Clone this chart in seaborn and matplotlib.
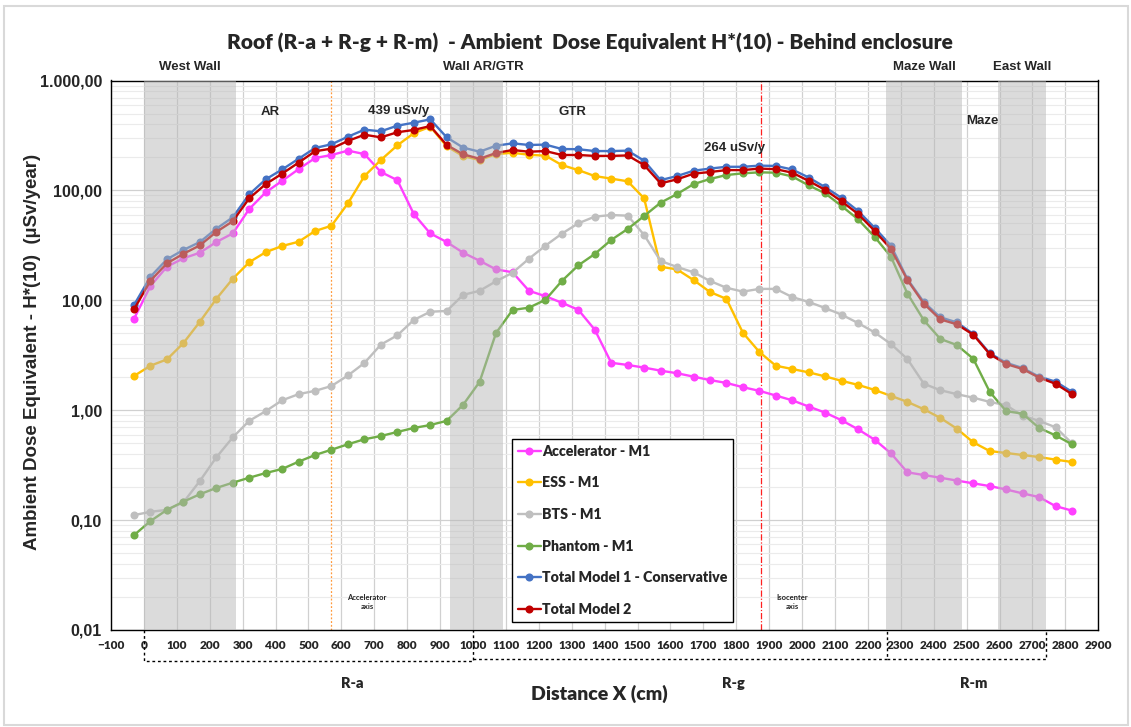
import matplotlib
matplotlib.use("Agg")
import matplotlib.pyplot as plt
import seaborn as sns
from matplotlib.ticker import FixedLocator, FixedFormatter, NullFormatter
from matplotlib.patches import Rectangle

# ---------------- data ----------------
x_cm = [-30, 20, 70, 120, 170, 220, 270, 320, 370, 420, 470, 520, 570, 620, 670,
        720, 770, 820, 870, 920, 970, 1020, 1070, 1120, 1170, 1220, 1270, 1320,
        1370, 1420, 1470, 1520, 1570, 1620, 1670, 1720, 1770, 1820, 1870, 1920,
        1970, 2020, 2070, 2120, 2170, 2220, 2270, 2320, 2370, 2420, 2470, 2520,
        2570, 2620, 2670, 2720, 2770, 2820]

accelerator = [6.8, 13.5, 20.2, 24.1, 27.1, 33.9, 40.6, 67.7, 96, 122, 156, 197, 210,
               230, 214, 147, 124, 61, 40.6, 33.9, 27.1, 22.9, 19.1, 18.0, 12.2, 10.9,
               9.5, 8.2, 5.4, 2.70, 2.58, 2.44, 2.29, 2.17, 2.02, 1.88, 1.77, 1.62, 1.50,
               1.36, 1.23, 1.08, 0.95, 0.81, 0.67, 0.54, 0.405, 0.272, 0.257, 0.243,
               0.229, 0.216, 0.204, 0.19, 0.175, 0.162, 0.134, 0.122]

ess = [2.05, 2.54, 2.90, 4.08, 6.38, 10.3, 15.7, 22.2, 27.4, 31.2, 34.1, 42.7, 47.7,
       76.3, 135, 189, 257, 331, 380, 252, 205, 189, 214, 220, 211, 207, 170, 153, 135,
       128, 121, 84.7, 20.2, 19.1, 15.3, 11.9, 10.3, 5.07, 3.39, 2.54, 2.37, 2.21, 2.03,
       1.85, 1.70, 1.53, 1.35, 1.19, 1.02, 0.85, 0.68, 0.51, 0.425, 0.408, 0.391,
       0.375, 0.355, 0.338]

bts = [0.111, 0.119, 0.124, 0.145, 0.227, 0.372, 0.566, 0.80, 0.98, 1.23, 1.40, 1.50,
       1.66, 2.07, 2.69, 3.95, 4.80, 6.62, 7.87, 8.0, 11.2, 12.2, 14.9, 17.8, 23.9, 31.4,
       40.4, 50.2, 57.7, 59.7, 58.9, 39.3, 22.8, 20.1, 18.0, 15.0, 13.0, 12.0, 12.7,
       12.7, 10.7, 9.66, 8.51, 7.40, 6.21, 5.11, 4.0, 2.92, 1.74, 1.52, 1.40, 1.30,
       1.19, 1.11, 0.89, 0.80, 0.70, 0.50]

phantom = [0.073, 0.098, 0.124, 0.147, 0.172, 0.196, 0.219, 0.243, 0.268, 0.292, 0.34,
           0.391, 0.437, 0.49, 0.544, 0.582, 0.634, 0.689, 0.733, 0.80, 1.12, 1.81, 5.04,
           8.16, 8.57, 10.1, 15.0, 20.8, 26.4, 35.4, 44.6, 58.5, 77.3, 92.7, 114, 127,
           138, 143, 146, 145, 134, 111, 94.1, 72.1, 54.6, 37.9, 24.9, 11.5, 6.58, 4.45,
           3.92, 2.94, 1.47, 0.98, 0.93, 0.69, 0.59, 0.49]

total_m1 = [9.06, 16.4, 23.6, 28.7, 33.9, 44.8, 56.9, 92, 126, 155, 194, 243, 263, 308,
            357, 345, 388, 413, 443, 304, 245, 225, 255, 268, 259, 261, 238, 237, 228,
            228, 230, 186, 124, 135, 151, 158, 164, 164, 168, 167, 155, 131, 107, 85.3,
            65, 45.8, 31.4, 15.6, 9.6, 7.0, 6.3, 4.94, 3.3, 2.7, 2.42, 2.02, 1.82, 1.47]

total_m2 = [8.28, 15.1, 21.7, 26.5, 31.6, 41.9, 52.4, 84.7, 114, 142, 179, 227, 240, 282,
            321, 304, 338, 355, 385, 259, 213, 194, 219, 233, 225, 228, 210, 210, 206,
            206, 208, 170, 116, 126, 142, 147, 153, 153, 158, 156, 145, 122, 101, 79.6,
            61, 43, 29.3, 15.3, 9.3, 6.7, 6.05, 4.87, 3.24, 2.63, 2.37, 1.98, 1.74, 1.40]

series_names = ["Accelerator - M1", "ESS - M1", "BTS - M1", "Phantom - M1",
                "Total Model 1 - Conservative", "Total Model 2"]
series_colors = ["#FF40FF", "#FFC000", "#BFBFBF", "#70AD47", "#4472C4", "#C00000"]

y_ticks = [0.01, 0.1, 1, 10, 100, 1000]
y_tick_labels = ["0,01", "0,10", "1,00", "10,00", "100,00", "1.000,00"]
x_ticks = list(range(-100, 3000, 100))

wall_names = ["West Wall", "Wall AR/GTR", "Maze Wall", "East Wall"]
wall_spans = [(0, 280), (930, 1090), (2255, 2487), (2595, 2740)]

title = "Roof (R-a + R-g + R-m)  - Ambient  Dose Equivalent H*(10) - Behind enclosure"

# ---------------- figure ----------------
sns.set_theme(style="white")
plt.rcParams["font.family"] = ["Lato", "DejaVu Sans"]
ARIAL = ["Liberation Sans", "DejaVu Sans"]

W, H = 1131, 727
fig = plt.figure(figsize=(W / 100, H / 100), dpi=100)
L, R, T, B = 111, 1098.3, 80.5, 630
ax = fig.add_axes([L / W, 1 - B / H, (R - L) / W, (B - T) / H])


def fx(px):
    return px / W


def fy(py):
    return 1 - py / H


all_series = [accelerator, ess, bts, phantom, total_m1, total_m2]
for name, vals, col in zip(series_names, all_series, series_colors):
    sns.lineplot(x=x_cm, y=vals, ax=ax, color=col, marker="o", markersize=5.8,
                 markeredgewidth=0, linewidth=1.7, label=name, zorder=3)

ax.set_yscale("log")
ax.set_ylim(0.01, 1000)
ax.set_xlim(-100, 2900)

ax.yaxis.set_major_locator(FixedLocator(y_ticks))
ax.yaxis.set_major_formatter(FixedFormatter(y_tick_labels))
minor_y = [m * 10.0 ** e for e in range(-2, 3) for m in range(2, 10)]
ax.yaxis.set_minor_locator(FixedLocator(minor_y))
ax.yaxis.set_minor_formatter(NullFormatter())
ax.xaxis.set_major_locator(FixedLocator(x_ticks))
ax.xaxis.set_minor_locator(FixedLocator([v + 50 for v in x_ticks[:-1]]))

ax.set_axisbelow(True)
ax.grid(which="major", axis="both", color="#d0d0d0", lw=0.9)
ax.grid(which="minor", axis="y", color="#ebebeb", lw=0.8)
ax.grid(which="minor", axis="x", visible=False)

ax.tick_params(axis="x", which="major", direction="inout", length=7, width=1,
               color="black", labelsize=8.5, pad=4)
ax.tick_params(axis="x", which="minor", direction="in", length=3, width=0.8,
               color="black")
ax.tick_params(axis="y", which="major", direction="out", length=5, width=1,
               color="black", pad=1.5)
ax.tick_params(axis="y", which="minor", direction="out", length=3, width=0.8,
               color="black")
for lab in ax.get_xticklabels():
    lab.set_fontweight("heavy")
for lab in ax.get_yticklabels():
    lab.set_fontweight("bold")
    lab.set_family(ARIAL)
    lab.set_fontsize(11.5)
ax.set_xlabel("")
ax.set_ylabel("")
for s in ax.spines.values():
    s.set_color("black")
    s.set_linewidth(1.0)

# shaded walls (translucent overlay)
for a, b in wall_spans:
    ax.axvspan(a, b, color="#b8b8b8", alpha=0.5, lw=0, zorder=4)

# axis markers
ax.axvline(570, color="#FF9A3C", lw=0.9, ls=(0, (1.5, 1.5)), zorder=2.5)
ax.axvline(1875, color="#FF2020", lw=0.9, ls=(0, (5, 1.5, 1, 1.5)), zorder=2.5)

# legend
leg = ax.legend(loc="lower left", bbox_to_anchor=(0.406, 0.0146), frameon=True,
                fancybox=False, edgecolor="black", framealpha=1,
                prop={"size": 10.2, "weight": "heavy"}, labelspacing=1.32,
                handlelength=1.65, handletextpad=0.05, borderpad=0.42,
                borderaxespad=0)
leg.get_frame().set_linewidth(1.0)
leg.set_zorder(6)

# brackets under x axis
xt = ax.get_xaxis_transform()
dash = dict(color="black", lw=1.0, ls=(0, (2, 2)), clip_on=False, transform=xt)
ya = (B - 661) / (B - T)
yb = (B - 659) / (B - T)
ax.plot([0, 0, 1000, 1000], [0, ya, ya, 0], **dash)
ax.plot([1000, 2258, 2258], [yb, yb, 0], **dash)
ax.plot([2258, 2741, 2741], [yb, yb, 0], **dash)

# texts
fig.text(fx(590), fy(43), title, ha="center", va="center", fontsize=15,
         fontweight="heavy")
for name, cx in zip(wall_names, [190, 483, 924, 1022]):
    fig.text(fx(cx), fy(67), name, ha="center", va="center", fontsize=9.5,
             fontweight="bold", family=ARIAL)
for txt, cx, cy in [("AR", 270, 111.7), ("439 uSv/y", 399, 110.7), ("GTR", 572, 111.7),
                    ("264 uSv/y", 735, 147.7), ("Maze", 982, 120.7)]:
    fig.text(fx(cx), fy(cy), txt, ha="center", va="center", fontsize=9.5,
             fontweight="bold", family=ARIAL)
fig.text(fx(367), fy(602), "Accelerator\naxis", ha="center", va="center",
         fontsize=5.5, linespacing=1.3, fontweight="bold")
fig.text(fx(792), fy(602), "Isocenter\naxis", ha="center", va="center",
         fontsize=5.5, linespacing=1.3, fontweight="bold")
for txt, cx in [("R-a", 352), ("R-g", 733), ("R-m", 974)]:
    fig.text(fx(cx), fy(684), txt, ha="center", va="center", fontsize=10.5,
             fontweight="heavy")
fig.text(fx(599), fy(694), "Distance X (cm)", ha="center", va="center", fontsize=14,
         fontweight="heavy")
fig.text(fx(33), fy(352), "Ambient Dose Equivalent - H*(10)  (µSv/year)",
         rotation=90, ha="center", va="center", fontsize=13.5, fontweight="bold",
         family=ARIAL)

fig.patches.append(Rectangle((fx(4), fy(725)), fx(1124), (721 - 2) / H,
                             transform=fig.transFigure, fill=False,
                             edgecolor="#d9d9d9", lw=1.5))

fig.savefig("out.png", dpi=100)
